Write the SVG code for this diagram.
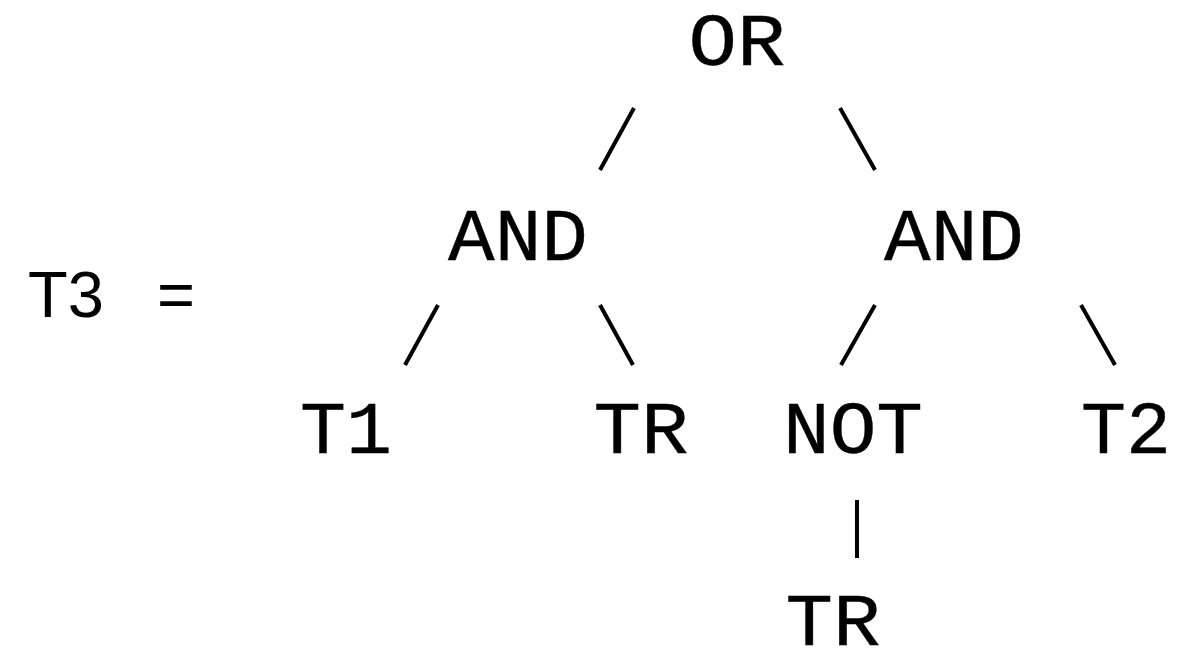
<svg xmlns="http://www.w3.org/2000/svg" width="1178" height="650" viewBox="0 0 1178 650">
  <style>
    .node { font-family: "Liberation Mono", "Courier New", monospace; font-size: 75px; fill: #000; stroke: #000; stroke-width: 0.4; text-anchor: middle; }
    .lhs { font-family: "Liberation Sans", Arial, sans-serif; font-size: 65px; fill: #000; }
    .edge { stroke: #000; stroke-width: 4; stroke-linecap: butt; fill: none; }
  </style>
  <rect width="1178" height="650" fill="#fff"/>

  <!-- left-hand side of the definition -->
  <g id="lhs">
    <text class="lhs" x="28" y="317">T3</text>
    <text class="lhs" x="157" y="317">=</text>
  </g>

  <!-- tree connectors -->
  <g id="connectors">
    <line class="edge" x1="600" y1="170" x2="634" y2="108"/>
    <line class="edge" x1="840" y1="108" x2="875" y2="170"/>
    <line class="edge" x1="405" y1="365" x2="438" y2="305"/>
    <line class="edge" x1="600" y1="305" x2="633" y2="365"/>
    <line class="edge" x1="841" y1="365" x2="875" y2="305"/>
    <line class="edge" x1="1081" y1="305" x2="1115" y2="365"/>
    <line class="edge" x1="857" y1="500" x2="857" y2="558"/>
  </g>

  <!-- tree nodes -->
  <g id="n-or"><text class="node" x="737" y="65" textLength="97" lengthAdjust="spacingAndGlyphs">OR</text></g>
  <g id="n-and-left"><text class="node" x="518" y="260" textLength="140" lengthAdjust="spacingAndGlyphs">AND</text></g>
  <g id="n-and-right"><text class="node" x="954" y="260" textLength="140" lengthAdjust="spacingAndGlyphs">AND</text></g>
  <g id="n-t1"><text class="node" x="346" y="453" textLength="92" lengthAdjust="spacingAndGlyphs">T1</text></g>
  <g id="n-tr"><text class="node" x="641" y="453" textLength="95" lengthAdjust="spacingAndGlyphs">TR</text></g>
  <g id="n-not"><text class="node" x="853" y="453" textLength="140" lengthAdjust="spacingAndGlyphs">NOT</text></g>
  <g id="n-t2"><text class="node" x="1126" y="453" textLength="90" lengthAdjust="spacingAndGlyphs">T2</text></g>
  <g id="n-tr-leaf"><text class="node" x="833" y="645" textLength="95" lengthAdjust="spacingAndGlyphs">TR</text></g>
</svg>
